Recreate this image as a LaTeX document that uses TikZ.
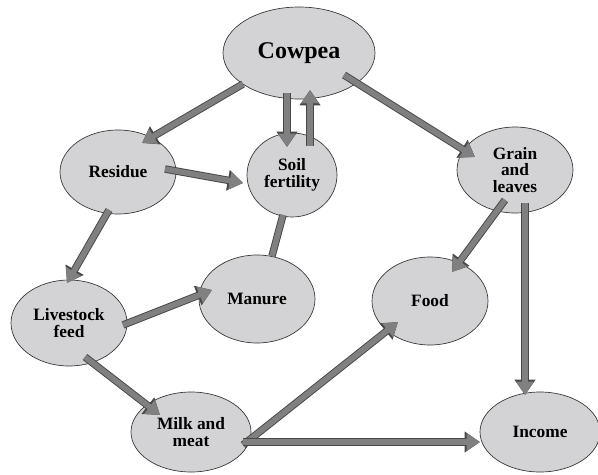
\documentclass[tikz,border=0pt]{standalone}
\usepackage{fontspec}
\setmainfont{Liberation Serif}
\usetikzlibrary{shapes.geometric,arrows.meta,calc}
\definecolor{blobgray}{RGB}{211,211,213}
\definecolor{bargray}{RGB}{128,128,128}
\definecolor{baredge}{RGB}{72,72,72}
\tikzset{
  blob/.style={ellipse, draw=black!80, line width=0.5pt, fill=blobgray, inner sep=0pt,
    align=center, font=\fontsize{13}{12.5}\selectfont\bfseries},
  flow/.style={line width=4.2pt, draw=bargray, -{Triangle[length=10pt,width=12.5pt]},
    preaction={draw=baredge, line width=5.6pt, -{Triangle[length=11.5pt,width=15pt]}}},
  link/.style={line width=4.2pt, draw=bargray, preaction={draw=baredge, line width=5.6pt}},
}
\begin{document}
\begin{tikzpicture}[x=0.75pt,y=0.75pt,yscale=-1,xscale=1]
\useasboundingbox (0,0) rectangle (598,474);

% Ellipses
\node[blob, minimum width=114pt, minimum height=69pt, font=\fontsize{18}{20}\selectfont\bfseries] (cowpea) at (299,53) {Cowpea};
\node[blob, minimum width=87pt, minimum height=63pt] (residue) at (118,172) {Residue};
\node[blob, minimum width=67.5pt, minimum height=63pt] (soil) at (292,175) {Soil\\fertility};
\node[blob, minimum width=87pt, minimum height=64.5pt] (livestock) at (69,323) {Livestock\\feed};
\node[blob, minimum width=87pt, minimum height=66pt] (manure) at (257,299) {Manure};
\node[blob, minimum width=90pt, minimum height=60pt] (milk) at (191,432) {Milk and\\meat};
\node[blob, minimum width=87pt, minimum height=64.5pt] (grain) at (515,170) {Grain\\and\\leaves};
\node[blob, minimum width=87pt, minimum height=66pt] (food) at (430,301) {Food};
\node[blob, minimum width=90pt, minimum height=60pt] (income) at (540,432) {Income};

% Flows
\draw[flow] ($(cowpea)+(-56,31)$) -- ($(residue)+(24,-29)$);
\draw[flow] ($(cowpea)+(-12,40)$) -- ($(soil)+(-5,-28)$);
\draw[flow] ($(soil)+(18,-29)$) -- ($(cowpea)+(11,37)$);
\draw[flow] ($(cowpea)+(45,22)$) -- ($(grain)+(-40,-13)$);
\draw[flow] ($(residue)+(47,-3)$) -- ($(soil)+(-49,8)$);
\draw[flow] ($(residue)+(-9,38)$) -- ($(livestock)+(-2,-40)$);
\draw[link] ($(soil)+(-9,40)$) -- ($(manure)+(15,-43)$);
\draw[flow] ($(livestock)+(54,2)$) -- ($(manure)+(-45,-9)$);
\draw[flow] ($(livestock)+(16,34)$) -- ($(milk)+(-31,-17)$);
\draw[flow] ($(milk)+(52,13)$) -- ($(food)+(-32,21)$);
\draw[flow] ($(milk)+(52,10)$) -- ($(income)+(-60,10)$);
\draw[flow] ($(grain)+(-10,30)$) -- ($(food)+(22,-29)$);
\draw[flow] ($(grain)+(10,33)$) -- ($(income)+(-15,-37)$);
\end{tikzpicture}
\end{document}
